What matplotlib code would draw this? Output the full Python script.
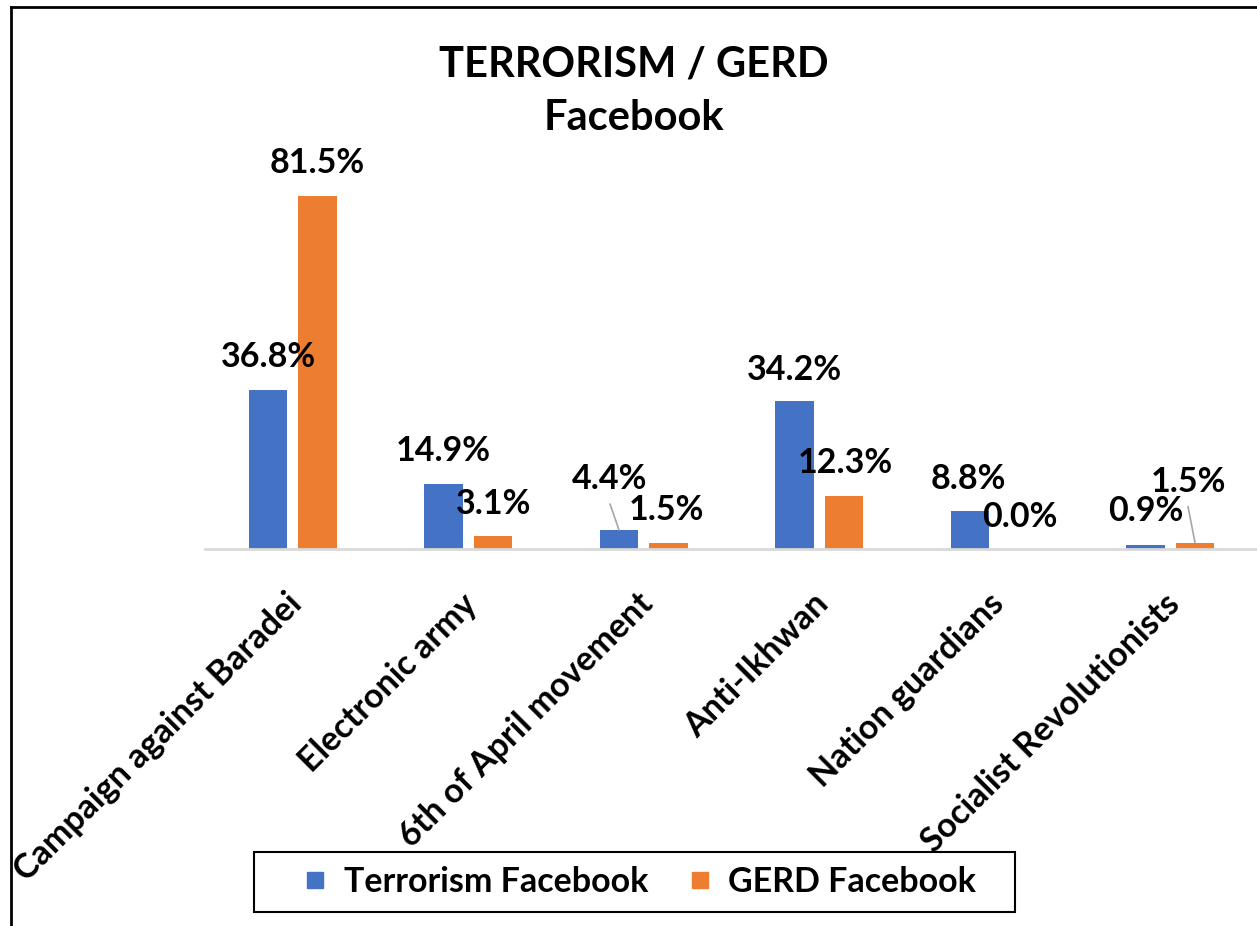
import matplotlib
matplotlib.use("Agg")
import matplotlib.pyplot as plt
from matplotlib.lines import Line2D
from matplotlib.patches import Rectangle
import numpy as np

plt.rcParams['font.family'] = ['Lato', 'DejaVu Sans']

categories = ["Campaign against Baradei", "Electronic army", "6th of April movement",
              "Anti-Ikhwan", "Nation guardians", "Socialist Revolutionists"]
terrorism = [36.8, 14.9, 4.4, 34.2, 8.8, 0.9]
gerd = [81.5, 3.1, 1.5, 12.3, 0.0, 1.5]
series_names = ["Terrorism Facebook", "GERD Facebook"]
title = "TERRORISM / GERD\nFacebook"

BLUE = "#4472C4"
ORANGE = "#ED7D31"

W, H = 1257, 926
fig = plt.figure(figsize=(W / 100, H / 100), dpi=100)

# axes placement in pixels
ax_left, ax_right = 205, 1258
ax_bottom_px = 549
px_per_unit = (549 - 196) / 81.5
ymax = 90
ax_top_px = ax_bottom_px - ymax * px_per_unit
ax = fig.add_axes([ax_left / W, 1 - ax_bottom_px / H,
                   (ax_right - ax_left) / W, (ax_bottom_px - ax_top_px) / H])
ax.set_xlim(-0.5, len(categories) - 0.5)
ax.set_ylim(0, ymax)

x = np.arange(len(categories))
bw = 0.222
gap = 0.06
off = (bw + gap) / 2
ax.bar(x - off, terrorism, bw, color=BLUE, label=series_names[0])
ax.bar(x + off, gerd, bw, color=ORANGE, label=series_names[1])

for s in ["top", "right", "left"]:
    ax.spines[s].set_visible(False)
ax.spines["bottom"].set_color("#d9d9d9")
ax.spines["bottom"].set_linewidth(2)
ax.set_yticks([])
ax.set_xticks(x)
ax.tick_params(axis="x", length=0, pad=0)
ax.set_xticklabels([])
for xi, lab in zip(x, categories):
    ax.annotate(lab, xy=(xi, 0), xytext=(4, -50), textcoords="offset pixels",
                rotation=45, rotation_mode="anchor", ha="right", va="center",
                fontsize=24.5, fontweight="bold", annotation_clip=False)

# data labels: offsets in pixels (dx, dy) relative to bar top
lab_fs = 24.5
t_offsets = [(0, 33), (0, 33), (-9, 51), (0, 31), (-2, 32), (0, 34)]
g_offsets = [(0, 33), (1, 32), (-2, 33), (1, 33), (0, 32), (-7, 61)]
t_leader = [False, False, True, False, False, False]
g_leader = [False, False, False, False, False, True]

def draw_labels(xs, vals, offs, leaders):
    for xi, v, (dx, dy), ld in zip(xs, vals, offs, leaders):
        ax.annotate(f"{v:.1f}%", xy=(xi, v), xytext=(dx, dy), textcoords="offset pixels",
                    ha="center", va="center", fontsize=lab_fs, fontweight="bold",
                    annotation_clip=False)
        if ld:
            ax.annotate("", xy=(xi, v), xytext=(dx, dy - 25), textcoords="offset pixels",
                        arrowprops=dict(arrowstyle="-", color="#a6a6a6", lw=1.2,
                                        shrinkA=0, shrinkB=0),
                        annotation_clip=False)

draw_labels(x - off, terrorism, t_offsets, t_leader)
draw_labels(x + off, gerd, g_offsets, g_leader)

fig.text(634 / W, 1 - 91 / H, title, ha="center", va="center", fontsize=30,
         fontweight="bold", linespacing=1.5)

# legend
handles = [Line2D([0], [0], marker="s", linestyle="none", markersize=12,
                  markerfacecolor=BLUE, markeredgecolor=BLUE),
           Line2D([0], [0], marker="s", linestyle="none", markersize=12,
                  markerfacecolor=ORANGE, markeredgecolor=ORANGE)]
leg = fig.legend(handles, series_names, loc="center", bbox_to_anchor=(639 / W, 1 - 882 / H),
                 ncol=2, frameon=False,
                 prop=dict(size=24.5, weight="bold"), handlelength=0.8, handletextpad=0.45,
                 columnspacing=1.1, borderpad=0.45, borderaxespad=0)
fig.add_artist(Rectangle((254 / W, 1 - 912 / H), (1015 - 254) / W, 60 / H,
                         transform=fig.transFigure, fill=False, edgecolor="black", lw=1.5))

# outer chart border (top and left edges visible)
fig.add_artist(Line2D([11 / W, 11 / W], [0, 1 - 7 / H], transform=fig.transFigure,
                      color="black", lw=2))
fig.add_artist(Line2D([11 / W, 1], [1 - 7 / H, 1 - 7 / H], transform=fig.transFigure,
                      color="black", lw=2))

fig.savefig("out.png", dpi=100)
